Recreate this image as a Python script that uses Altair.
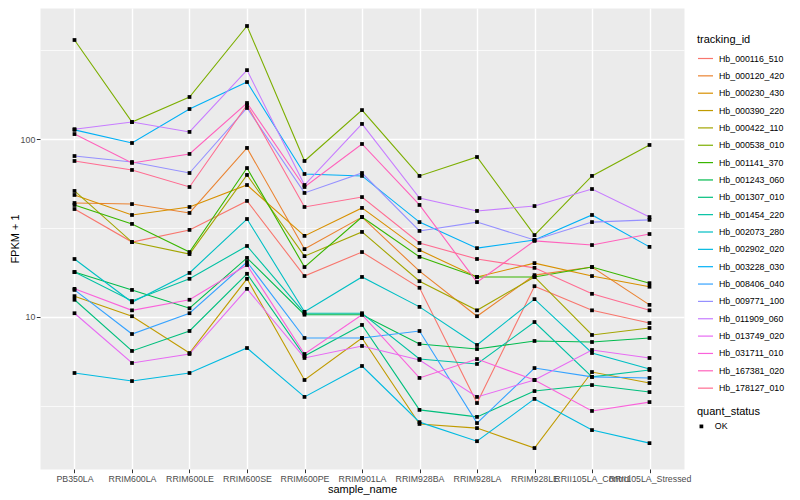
import altair as alt
import pandas as pd

samples = ["PB350LA", "RRIM600LA", "RRIM600LE", "RRIM600SE", "RRIM600PE", "RRIM901LA",
           "RRIM928BA", "RRIM928LA", "RRIM928LE", "RRII105LA_Control", "RRII105LA_Stressed"]

tracking_ids = ["Hb_000116_510", "Hb_000120_420", "Hb_000230_430", "Hb_000390_220",
                "Hb_000422_110", "Hb_000538_010", "Hb_001141_370", "Hb_001243_060",
                "Hb_001307_010", "Hb_001454_220", "Hb_002073_280", "Hb_002902_020",
                "Hb_003228_030", "Hb_008406_040", "Hb_009771_100", "Hb_011909_060",
                "Hb_013749_020", "Hb_031711_010", "Hb_167381_020", "Hb_178127_010"]

colors = ["#F8766D", "#EA8331", "#D89000", "#C09B00", "#A3A500", "#7CAE00", "#39B600",
          "#00BB4E", "#00BF7D", "#00C1A3", "#00BFC4", "#00BAE0", "#00B0F6", "#35A2FF",
          "#9590FF", "#C77CFF", "#E76BF3", "#FA62DB", "#FF62BC", "#FF6C91"]

# FPKM + 1 per sample (in the order of `samples`)
hb_000116_510 = [40.5, 26.4, 30.9, 45.0, 17.0, 23.2, 14.6, 3.28, 14.9, 10.9, 9.25]
hb_000120_420 = [43.8, 43.2, 38.5, 89.4, 24.1, 36.5, 18.1, 10.1, 17.2, 19.1, 11.7]
hb_000230_430 = [48.6, 37.5, 41.6, 55.3, 28.6, 41.1, 23.8, 16.8, 20.1, 17.0, 14.8]
hb_000390_220 = [13.1, 10.1, 6.27, 16.4, 4.42, 7.62, 2.50, 2.37, 1.83, 4.90, 4.25]
hb_000422_110 = [51.2, 26.4, 22.6, 63.0, 22.0, 30.1, 15.9, 10.9, 16.8, 7.92, 8.67]
hb_000538_010 = [362, 125, 173, 434, 75.5, 146, 62.2, 79.5, 28.9, 62.2, 92.9]
hb_001141_370 = [42.7, 33.4, 23.2, 68.9, 19.1, 36.5, 21.8, 16.8, 16.8, 19.1, 15.5]
hb_001243_060 = [17.9, 14.2, 11.2, 21.5, 10.3, 10.3, 7.05, 6.60, 7.33, 7.23, 7.62]
hb_001307_010 = [12.5, 6.44, 8.34, 17.5, 6.03, 9.02, 3.00, 2.74, 3.83, 4.14, 3.78]
hb_001454_220 = [17.9, 12.3, 16.4, 25.1, 10.5, 10.5, 5.80, 5.44, 9.37, 4.60, 5.03]
hb_002073_280 = [21.2, 12.1, 17.7, 35.6, 10.7, 16.8, 11.4, 6.96, 12.6, 6.27, 5.10]
hb_002902_020 = [4.84, 4.36, 4.84, 6.69, 3.55, 5.30, 2.56, 2.00, 3.46, 2.31, 1.95]
hb_003228_030 = [113, 95.3, 148, 210, 63.8, 62.2, 34.2, 24.4, 27.1, 37.5, 24.8]
hb_008406_040 = [14.2, 8.02, 10.5, 20.4, 7.62, 7.62, 8.34, 2.53, 5.16, 4.60, 4.54]
hb_009771_100 = [80.5, 74.5, 64.6, 150, 49.9, 64.6, 30.5, 34.2, 27.1, 34.2, 35.2]
hb_011909_060 = [114, 125, 110, 245, 55.3, 122, 46.7, 39.5, 42.1, 52.5, 36.5]
hb_013749_020 = [10.5, 5.51, 6.19, 14.4, 5.88, 6.87, 5.73, 3.55, 4.42, 6.52, 5.88]
hb_031711_010 = [14.4, 10.9, 12.5, 19.6, 6.19, 10.3, 4.54, 5.80, 4.42, 2.96, 3.32]
hb_167381_020 = [107, 73.6, 82.7, 160, 53.9, 94.1, 42.7, 15.7, 26.8, 25.4, 29.3]
hb_178127_010 = [75.5, 67.2, 53.9, 156, 41.6, 47.3, 26.1, 21.2, 18.9, 13.5, 10.9]

series = [hb_000116_510, hb_000120_420, hb_000230_430, hb_000390_220, hb_000422_110,
          hb_000538_010, hb_001141_370, hb_001243_060, hb_001307_010, hb_001454_220,
          hb_002073_280, hb_002902_020, hb_003228_030, hb_008406_040, hb_009771_100,
          hb_011909_060, hb_013749_020, hb_031711_010, hb_167381_020, hb_178127_010]

quant_status = "OK"

rows = []
for order, (tid, vals) in enumerate(zip(tracking_ids, series)):
    for s, v in zip(samples, vals):
        rows.append({"sample_name": s, "tracking_id": tid, "fpkm1": v,
                     "quant_status": quant_status, "order": order})
df = pd.DataFrame(rows)

FONT = "Liberation Sans"
major_test = "datum.value == 10 || datum.value == 100"

x_enc = alt.X("sample_name:N", sort=samples,
              scale=alt.Scale(type="point", padding=0.6),
              axis=alt.Axis(title="sample_name", labelAngle=0, labelOverlap=False,
                            labelBound=False, grid=True, gridColor="white", gridWidth=1.4,
                            domain=False, tickColor="#333333", tickSize=3.7, tickWidth=1,
                            labelColor="#4D4D4D", labelFontSize=8.8, labelPadding=1.5,
                            titleFontSize=11, titleColor="black", titleFontWeight="normal",
                            titlePadding=0))

y_enc = alt.Y("fpkm1:Q",
              scale=alt.Scale(type="log", domain=[1.395, 548], nice=False),
              axis=alt.Axis(title="FPKM + 1", values=[3.1623, 10, 31.623, 100, 316.23],
                            labelExpr="(" + major_test + ") ? format(datum.value, 'd') : ''",
                            grid=True, gridColor="white",
                            gridWidth={"condition": {"test": major_test, "value": 1.4}, "value": 0.7},
                            tickColor={"condition": {"test": major_test, "value": "#333333"}, "value": "transparent"},
                            domain=False, tickSize=3.7, tickWidth=1,
                            labelColor="#4D4D4D", labelFontSize=8.8, labelPadding=1.5,
                            titleFontSize=11, titleColor="black", titleFontWeight="normal",
                            titlePadding=0))

lines = alt.Chart(df).mark_line(strokeWidth=1.1).encode(
    x=x_enc, y=y_enc,
    color=alt.Color("tracking_id:N",
                    scale=alt.Scale(domain=tracking_ids, range=colors),
                    legend=alt.Legend(title="tracking_id", orient="none", legendX=657, legendY=26,
                                      symbolType="stroke", symbolSize=225, symbolStrokeWidth=1.2,
                                      rowPadding=3.35, labelFontSize=8.8, labelColor="black",
                                      titleFontSize=11, titleFontWeight="normal", titleColor="black",
                                      titlePadding=5, labelOffset=5, padding=0)),
    order=alt.Order("order:Q"),
)

points = alt.Chart(df).mark_point(shape="square", filled=True, size=14, opacity=1,
                                  color="black").encode(
    x=x_enc, y=y_enc,
    shape=alt.Shape("quant_status:N",
                    scale=alt.Scale(domain=["OK"], range=["square"]),
                    legend=alt.Legend(title="quant_status", orient="none", legendX=657, legendY=398,
                                      symbolSize=14, symbolFillColor="black", symbolStrokeWidth=0,
                                      labelFontSize=8.8, labelColor="black",
                                      titleFontSize=11, titleFontWeight="normal", titleColor="black",
                                      titlePadding=5, labelOffset=9, padding=0)),
    detail="tracking_id:N",
)

chart = alt.layer(lines, points).properties(
    width=644, height=461,
    autosize=alt.AutoSizeParams(type="none"),
    padding={"left": 32, "top": 0, "right": 108, "bottom": 30},
).configure(font=FONT).configure_view(fill="#EBEBEB", stroke="transparent")

chart.save("out.html", embed_options={"renderer": "svg", "actions": False})
